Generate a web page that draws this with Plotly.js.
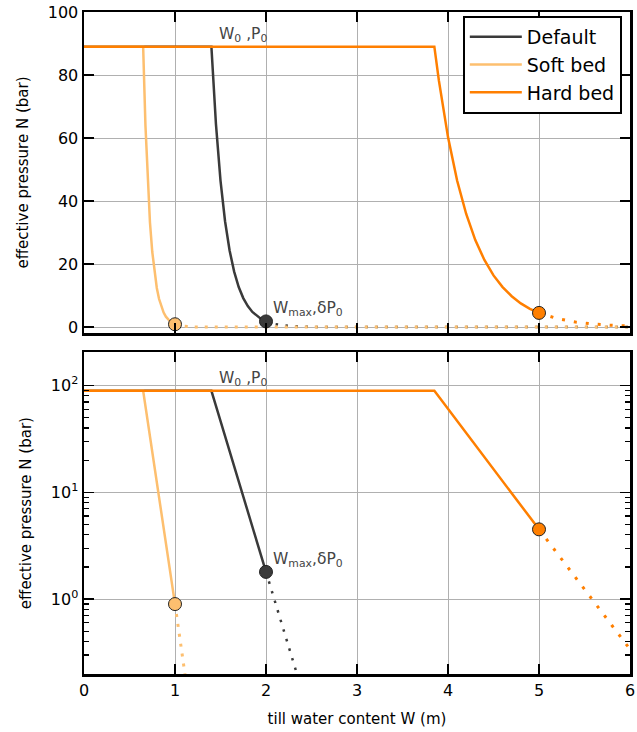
<!DOCTYPE html>
<html>
<head>
<meta charset="utf-8">
<script src="https://cdn.plot.ly/plotly-3.0.1.min.js"></script>
<style>html,body{margin:0;padding:0;background:#fff;}</style>
</head>
<body>
<div id="chart" style="width:637px;height:732px;"></div>
<script>
// ---- data ----
const seriesNames = ["Default", "Soft bed", "Hard bed"];
// solid part (W from 0 up to Wmax)
const wDefault = [0, 1.4, 1.45, 1.5, 1.55, 1.6, 1.65, 1.7, 1.75, 1.8, 1.85, 1.9, 1.95, 2.0];
const nDefault = [89, 89, 64.4, 46.5, 33.6, 24.3, 17.6, 12.7, 9.2, 6.65, 4.8, 3.5, 2.5, 1.8];
const wSoft = [0, 0.65, 0.675, 0.7, 0.725, 0.75, 0.775, 0.8, 0.825, 0.85, 0.875, 0.9, 0.925, 0.95, 0.975, 1.0];
const nSoft = [89, 89, 64.1, 46.2, 33.2, 23.9, 17.2, 12.4, 8.9, 6.4, 4.6, 3.3, 2.4, 1.7, 1.25, 0.9];
const wHard = [0, 3.85, 3.9, 4.0, 4.1, 4.2, 4.3, 4.4, 4.5, 4.6, 4.7, 4.8, 4.9, 5.0];
const nHard = [89, 89, 78.2, 60.3, 46.5, 35.9, 27.6, 21.3, 16.4, 12.7, 9.8, 7.5, 5.8, 4.5];
// dotted part (beyond Wmax)
const wDefaultDot = [2.0, 2.1, 2.2, 2.3, 2.4, 2.6, 3.0, 4.0, 5.0, 6.0];
const nDefaultDot = [1.8, 0.94, 0.49, 0.25, 0.13, 0.036, 0.0028, 1e-5, 4e-8, 1.5e-10];
const wSoftDot = [1.0, 1.05, 1.1, 1.2, 1.4, 2.0, 3.0, 4.0, 5.0, 6.0];
const nSoftDot = [0.9, 0.47, 0.24, 0.064, 0.0046, 1e-6, 1e-12, 1e-18, 1e-24, 1e-30];
const wHardDot = [5.0, 5.2, 5.4, 5.6, 5.8, 6.0];
const nHardDot = [4.5, 2.7, 1.6, 0.95, 0.57, 0.34];
// Wmax markers
const wMax = [2.0, 1.0, 5.0];
const nMax = [1.8, 0.9, 4.5];
// tick labels
const logTickVals = [1, 10, 100];
const logTickText = ["10<sup>0</sup>", "10<sup>1</sup>", "10<sup>2</sup>"];

const colors = ["#3a3a3a", "#fdbf6f", "#ff7f00"];
const solidW = [wDefault, wSoft, wHard];
const solidN = [nDefault, nSoft, nHard];
const dotW = [wDefaultDot, wSoftDot, wHardDot];
const dotN = [nDefaultDot, nSoftDot, nHardDot];
const dotDash = ["2.5px,7.5px", "3px,7px", "3px,9px"];
const dotWidth = [2.5, 3, 3];

const traces = [];
[["x", "y"], ["x2", "y2"]].forEach(([xa, ya], k) => {
  for (let i = 0; i < 3; i++) {
    traces.push({
      x: dotW[i], y: dotN[i], xaxis: xa, yaxis: ya, mode: "lines",
      line: {color: colors[i], width: dotWidth[i], dash: dotDash[i]},
      showlegend: false, hoverinfo: "skip"
    });
  }
  for (let i = 0; i < 3; i++) {
    traces.push({
      x: solidW[i], y: solidN[i], xaxis: xa, yaxis: ya, mode: "lines",
      line: {color: colors[i], width: 2.5},
      name: seriesNames[i], showlegend: k === 0, legendrank: i + 1
    });
  }
  for (let i = 0; i < 3; i++) {
    traces.push({
      x: [wMax[i]], y: [nMax[i]], xaxis: xa, yaxis: ya, mode: "markers",
      marker: {color: colors[i], size: 13, line: {color: "#222", width: 1}},
      showlegend: false, hoverinfo: "skip", cliponaxis: false
    });
  }
});

const axCommon = {
  showline: true, linecolor: "black", linewidth: 2.5, mirror: "ticks",
  ticks: "inside", ticklen: 10, tickwidth: 1.5, tickcolor: "black",
  showgrid: true, gridcolor: "#b0b0b0", gridwidth: 1, zeroline: false,
  tickfont: {family: "DejaVu Sans", size: 16, color: "black"}
};
const titleFont = {family: "DejaVu Sans", size: 15, color: "black"};

const ann = (x, y, xa, ya, text) => ({
  x: x, y: y, xref: xa, yref: ya, text: text, showarrow: false,
  xanchor: "left", yanchor: "bottom",
  font: {family: "DejaVu Sans", size: 15.5, color: "#444"}
});

const layout = {
  width: 637, height: 732,
  margin: {l: 84, r: 7, t: 12, b: 58},
  paper_bgcolor: "white", plot_bgcolor: "white",
  font: {family: "DejaVu Sans", color: "black"},
  showlegend: true,
  legend: {
    x: 0.985, y: 0.994, xanchor: "right", yanchor: "top",
    bordercolor: "black", borderwidth: 2, bgcolor: "white",
    itemwidth: 52,
    font: {family: "DejaVu Sans", size: 19, color: "black"}
  },
  xaxis: Object.assign({}, axCommon, {
    range: [0, 6], dtick: 1, anchor: "y", showticklabels: false, matches: "x2"
  }),
  xaxis2: Object.assign({}, axCommon, {
    range: [0, 6], dtick: 1, anchor: "y2",
    title: {text: "till water content W (m)", font: titleFont, standoff: 15}
  }),
  yaxis: Object.assign({}, axCommon, {
    domain: [0.515, 1], range: [-1.9, 100], dtick: 20, anchor: "x",
    title: {text: "effective pressure N (bar)", font: titleFont, standoff: 16}
  }),
  yaxis2: Object.assign({}, axCommon, {
    domain: [0, 0.486], type: "log", range: [-0.70, 2.31], anchor: "x2",
    tickmode: "array", tickvals: logTickVals, ticktext: logTickText,
    minor: {
      tickmode: "array",
      tickvals: [0.3, 0.4, 0.5, 0.6, 0.7, 0.8, 0.9, 2, 3, 4, 5, 6, 7, 8, 9, 20, 30, 40, 50, 60, 70, 80, 90],
      ticks: "inside", ticklen: 5, tickwidth: 1.2, tickcolor: "black", showgrid: false
    },
    title: {text: "effective pressure N (bar)", font: titleFont, standoff: 16}
  }),
  annotations: [
    ann(1.46, 89, "x", "y", "W<sub>0</sub> ,P<sub>0</sub>"),
    ann(2.06, 1.8, "x", "y", "W<sub>max</sub>,δP<sub>0</sub>"),
    ann(1.46, Math.log10(89), "x2", "y2", "W<sub>0</sub> ,P<sub>0</sub>"),
    ann(2.06, Math.log10(1.8), "x2", "y2", "W<sub>max</sub>,δP<sub>0</sub>")
  ]
};

Plotly.newPlot("chart", traces, layout, {displayModeBar: false, staticPlot: true});
</script>
</body>
</html>
